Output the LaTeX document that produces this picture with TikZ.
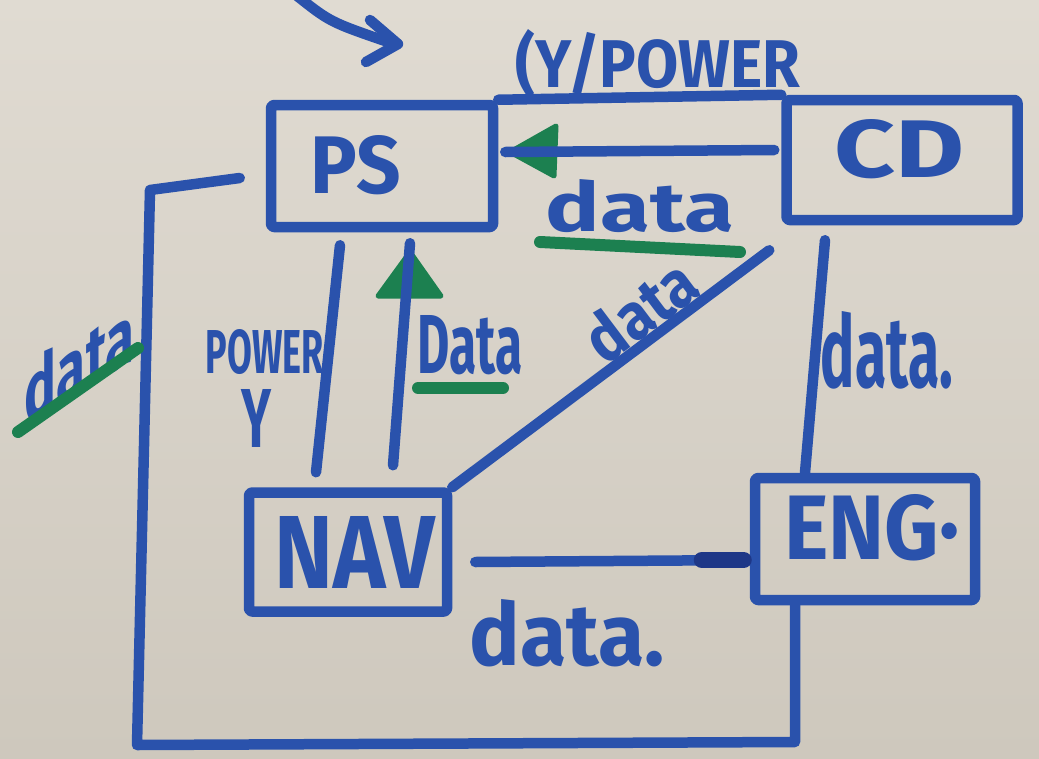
\documentclass[tikz,border=0pt]{standalone}
\usepackage{fontspec}
\setmainfont{Fira Sans}
\usepackage{graphicx}
\usetikzlibrary{calc}

\definecolor{papertop}{RGB}{224,219,210}
\definecolor{paperbot}{RGB}{206,200,189}
\definecolor{ink}{RGB}{42,82,172}
\definecolor{inkdark}{RGB}{30,55,135}
\definecolor{marker}{RGB}{28,128,80}

% hand-lettered word squeezed to a given width and height
\newcommand\hand[3]{\resizebox{#1}{#2}{\bfseries #3}}

\tikzset{
  pen/.style={draw=ink, line width=10.5pt, line cap=round, line join=round},
  boxnode/.style={pen, rectangle, rounded corners=3pt, inner sep=0pt},
  word/.style={text=ink, inner sep=0pt},
  greenpen/.style={draw=marker, line width=12pt, line cap=round},
  greentip/.style={fill=marker, draw=marker, line width=5pt, line join=round},
}

\begin{document}
\begin{tikzpicture}[x=1pt,y=-1pt]
  \useasboundingbox (0,0) rectangle (1039,758);
  \shade[top color=papertop, bottom color=paperbot] (0,0) rectangle (1039,758);

  % boxes
  \node[boxnode, minimum width=222pt, minimum height=122pt] (PS)  at (382,166) {};
  \node[boxnode, minimum width=231pt, minimum height=120pt] (CD)  at (902,160) {};
  \node[boxnode, minimum width=198pt, minimum height=119pt] (NAV) at (348,552) {};
  \node[boxnode, minimum width=220pt, minimum height=122pt] (ENG) at (865,539) {};

  \node[word] (PSt)  at (356,165) {\hand{90pt}{58pt}{PS}};
  \node[word] (CDt)  at (900,149) {\hand{130pt}{58pt}{CD}};
  \node[word] (NAVt) at (355,552) {\hand{160pt}{72pt}{NAV}};
  \node[word] (ENGt) at (872,528) {\hand{175pt}{65pt}{ENG·}};

  % green arrow heads (under the blue strokes)
  \fill[greentip] (510,152) -- (556,126) -- (554,176) -- cycle;
  \fill[greentip] (410,252) -- (378,296) -- (441,296) -- cycle;

  % connectors
  \draw[pen] (PS.north east) -- (CD.north west);
  \draw[pen] ([xshift=-7pt,yshift=10pt]CD.west) -- ([xshift=7pt,yshift=14pt]PS.east);
  \draw[pen] ([xshift=-42pt,yshift=-13pt]PS.south) -- ([xshift=-32pt,yshift=15pt]NAV.north);
  \draw[pen] ([xshift=45pt,yshift=22pt]NAV.north) -- ([xshift=28pt,yshift=-11pt]PS.south);
  \draw[pen] (NAV.north east) -- ([xshift=-12pt,yshift=-25pt]CD.south west);
  \draw[pen] ([xshift=-77pt,yshift=-15pt]CD.south) -- ([xshift=-60pt]ENG.north);
  \draw[pen] ([xshift=23pt,yshift=-10pt]NAV.east) -- ([yshift=-21pt]ENG.west);
  \draw[draw=inkdark, line width=16pt, line cap=round]
    ([xshift=-48pt,yshift=-21pt]ENG.west) -- ([xshift=-6pt,yshift=-21pt]ENG.west);

  \coordinate (loopA) at (150,190);
  \coordinate (loopB) at (137,745);
  \coordinate (loopC) at (795,742);
  \draw[pen] ([xshift=-26pt,yshift=-12pt]PS.west) -- (loopA) -- (loopB) -- (loopC)
    -- ([xshift=-70pt]ENG.south);

  % arrow coming in from the top edge
  \coordinate (inA) at (296,-5);
  \coordinate (inB) at (398,44);
  \draw[pen] (inA) .. controls (330,22) .. (388,42);
  \draw[pen] (370,20) -- (inB) -- (366,62);

  % labels
  \node[word] (lpow) at (658,64)  {\hand{285pt}{58pt}{(Y/POWER}};
  \node[word] (ldat1) at (640,206) {\hand{188pt}{52pt}{data}};
  \draw[greenpen] (540,242) -- (740,252);
  \node[word] (lpw2) at (265,352) {\hand{118pt}{44pt}{POWER}};
  \node[word] (ly)   at (256,418) {\hand{30pt}{58pt}{Y}};
  \node[word] (ldat2) at (470,345) {\hand{105pt}{58pt}{Data}};
  \draw[greenpen] (418,388) -- (503,388);
  \node[word, rotate=37] (ldat3) at (640,310) {\hand{122pt}{50pt}{data}};
  \node[word] (ldat4) at (887,350) {\hand{132pt}{76pt}{data.}};
  \node[word] (ldat5) at (567,633) {\hand{195pt}{66pt}{data.}};
  \node[word, yslant=0.6] (ldat6) at (80,362) {\hand{110pt}{62pt}{data}};
  \draw[greenpen] (18,432) -- (138,348);
\end{tikzpicture}
\end{document}
